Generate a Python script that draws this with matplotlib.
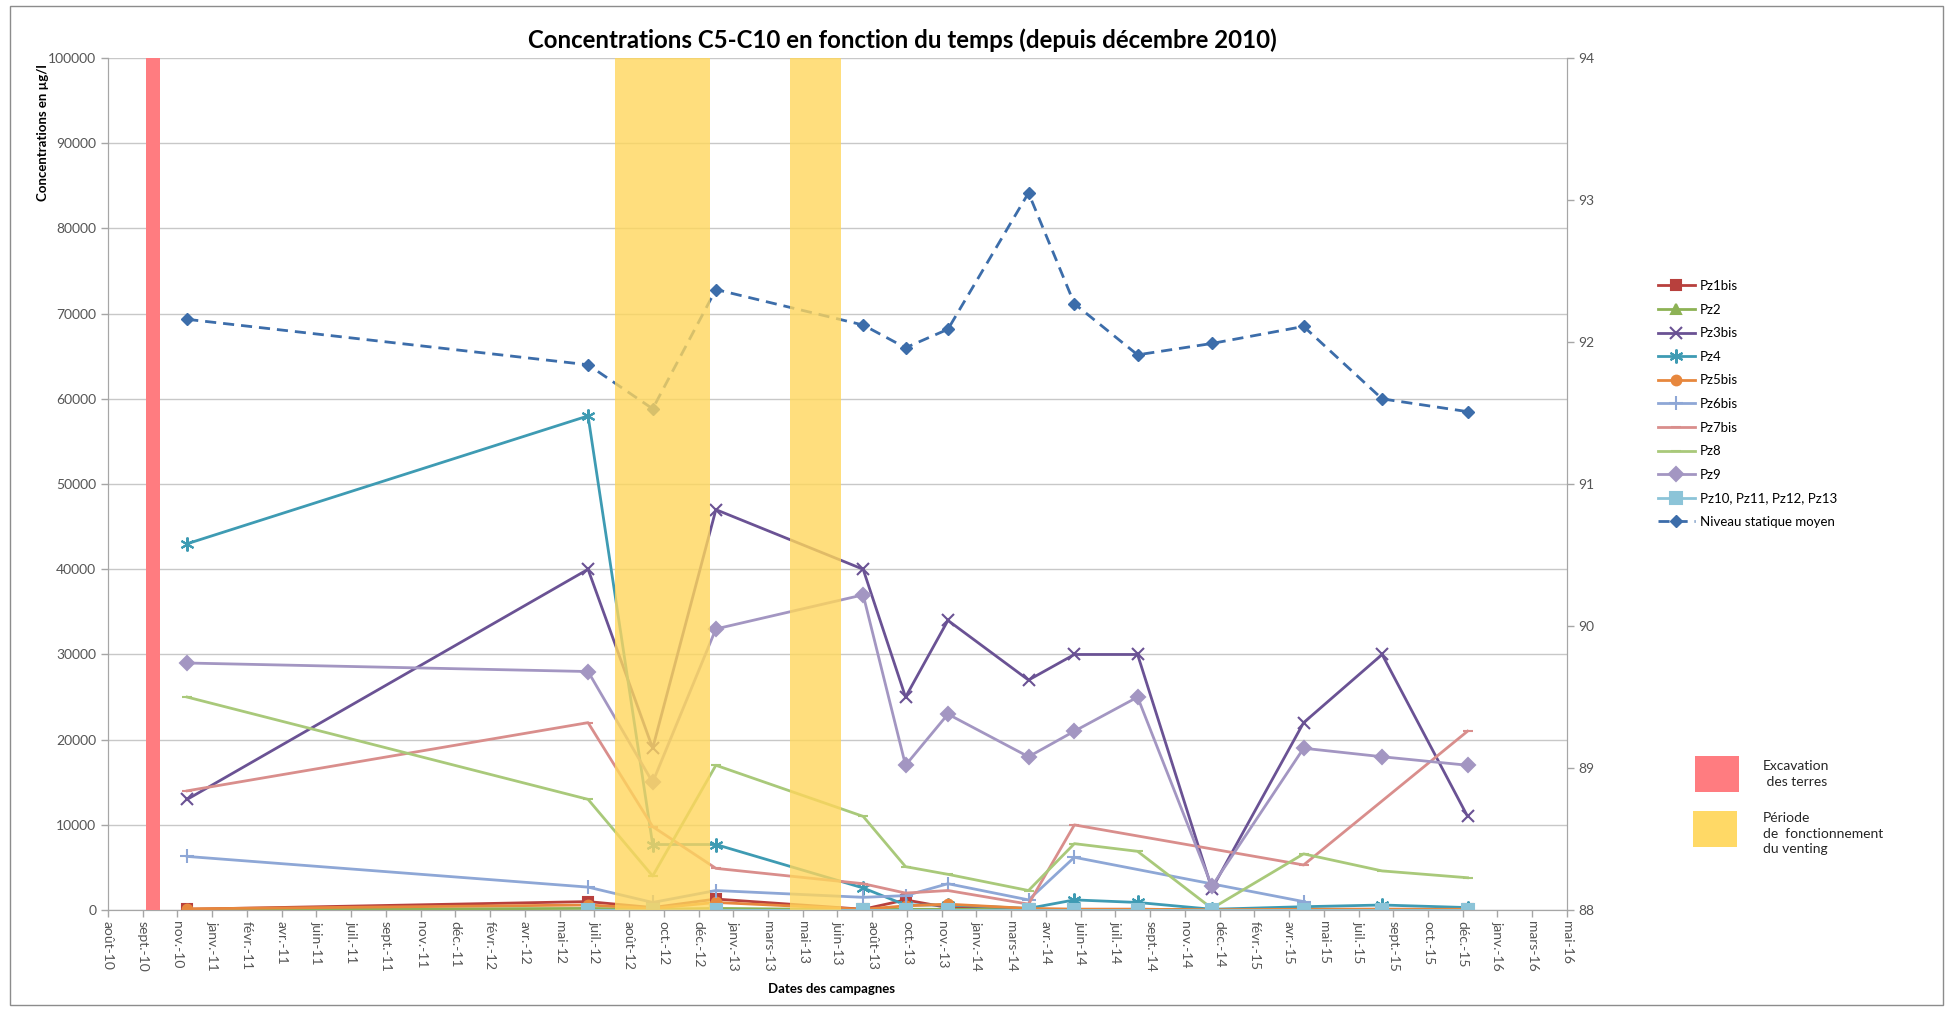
import matplotlib
matplotlib.use('Agg')
import matplotlib.pyplot as plt
from matplotlib.patches import Rectangle
from matplotlib.ticker import FuncFormatter
import matplotlib.dates as mdates
import numpy as np
import pandas as pd

plt.rcParams['font.family'] = ['Lato', 'DejaVu Sans']

# dates des campagnes de prelevement
campagnes = pd.to_datetime(['2010-12-02', '2012-07-01', '2012-10-02', '2013-01-01',
                            '2013-08-01', '2013-10-01', '2013-12-01', '2014-03-27',
                            '2014-06-01', '2014-08-31', '2014-12-16', '2015-04-27',
                            '2015-08-18', '2015-12-19'])

# concentrations C5-C10 en ug/l (nan = pas de mesure)
nan = np.nan
pz1bis = [100, 1000, 300, 1300, 100, 1200, 300, 100, 100, 100, 50, 100, 100, 100]
pz2 = [50, 200, 100, 200, 50, 100, 100, 50, 50, 50, 50, 50, 50, 50]
pz3bis = [13000, 40000, 19000, 47000, 40000, 25000, 34000, 27000, 30000, 30000, 2500, 22000, 30000, 11000]
pz4 = [43000, 58000, 7700, 7700, 2600, 600, 600, 200, 1200, 900, 100, 400, 600, 300]
pz5bis = [150, 600, 200, 900, 100, 500, 700, 200, 100, 100, 50, 100, 100, 100]
pz6bis = [6300, 2700, 900, 2300, 1500, 1700, 3100, 1200, 6200, nan, nan, 1000, nan, nan]
pz7bis = [14000, 22000, 9800, 4900, 3100, 2000, 2300, 700, 10000, nan, nan, 5300, nan, 21000]
pz8 = [25000, 13000, 4000, 17000, 11000, 5100, 4200, 2300, 7800, 6900, 200, 6600, 4600, 3800]
pz9 = [29000, 28000, 15000, 33000, 37000, 17000, 23000, 18000, 21000, 25000, 2800, 19000, 18000, 17000]
pz10_13 = [nan, 0, 0, 0, 0, 0, 0, 0, 0, 0, 0, 0, 0, 0]

# niveau statique moyen (axe de droite)
niveau = [92.16, 91.84, 91.53, 92.37, 92.12, 91.96, 92.09, 93.05, 92.27, 91.91, 91.99, 92.11, 91.60, 91.51]

# periodes particulieres
excavation = ('2010-10-03', '2010-10-24')
venting = [('2012-08-09', '2012-12-23'), ('2013-04-17', '2013-06-30')]

x_debut = pd.Timestamp('2010-08-10')
mois = ['janv.', 'févr.', 'mars', 'avr.', 'mai', 'juin', 'juil.', 'août',
        'sept.', 'oct.', 'nov.', 'déc.']

series = [
    ('Pz1bis', pz1bis, '#B8403D', 's', 7),
    ('Pz2', pz2, '#8DB255', '^', 7),
    ('Pz3bis', pz3bis, '#6A5294', 'x', 9),
    ('Pz4', pz4, '#3E9BB3', (6, 2, 0), 10),
    ('Pz5bis', pz5bis, '#E7873D', 'o', 7),
    ('Pz6bis', pz6bis, '#8EA7D6', '+', 10),
    ('Pz7bis', pz7bis, '#D98E8C', '_', 7),
    ('Pz8', pz8, '#A9C97A', '_', 7),
    ('Pz9', pz9, '#A396C2', 'D', 7),
    ('Pz10, Pz11, Pz12, Pz13', pz10_13, '#8CC4D8', 's', 9),
]

fig = plt.figure(figsize=(19.46, 10.09), dpi=100)
ax = fig.add_axes([0.0555, 0.098, 0.7497, 0.8445])
ax2 = ax.twinx()

gris = '#A6A6A6'
handles = []
for nom, vals, col, mk, ms in series:
    y = np.array(vals, dtype=float)
    ok = ~np.isnan(y)
    h, = ax.plot(campagnes[ok], y[ok], color=col, lw=2, marker=mk, ms=ms,
                 mew=1.5, label=nom, zorder=3)
    handles.append(h)

h, = ax2.plot(campagnes, niveau, color='#3C6DAA', lw=2, ls=(0, (4, 2.5)), marker='D',
              ms=6, label='Niveau statique moyen', zorder=2)
handles.append(h)

# bandes (dessinees par-dessus les courbes, comme dans Excel)
ax2.axvspan(pd.Timestamp(excavation[0]), pd.Timestamp(excavation[1]),
            color='#FF7C80', zorder=4, lw=0)
for d0, d1 in venting:
    ax2.axvspan(pd.Timestamp(d0), pd.Timestamp(d1), color='#FFD65C', alpha=0.8,
                zorder=4, lw=0)

# axes
x_fin = x_debut + pd.Timedelta(days=2100)
ax.set_xlim(x_debut, x_fin)
ax.set_ylim(0, 100000)
ax.set_yticks(np.arange(0, 100001, 10000))
ax2.set_ylim(88, 94)
ax2.set_yticks(np.arange(88, 95, 1))

ax.set_xticks(pd.date_range(x_debut, periods=43, freq='50D'))


def fmt_date(v, pos):
    d = mdates.num2date(v)
    return '%s-%02d' % (mois[d.month - 1], d.year % 100)


ax.xaxis.set_major_formatter(FuncFormatter(fmt_date))
for lab in ax.get_xticklabels():
    lab.set_rotation(-90)

ax.yaxis.grid(True, color='#C8C8C8', lw=1)
ax.set_axisbelow(True)
for a in (ax, ax2):
    a.spines['top'].set_visible(False)
    for s in ('left', 'right', 'bottom'):
        a.spines[s].set_color(gris)
    a.tick_params(colors=gris, labelcolor='#555555', labelsize=10, length=5, width=1)
ax.tick_params(axis='x', labelsize=10, pad=3)

# textes
fig.text(0.4635, 0.960, 'Concentrations C5-C10 en fonction du temps (depuis décembre 2010)',
         ha='center', va='center', fontsize=17.3, fontweight='bold')
fig.text(0.0221, 0.936, 'Concentrations en µg/l', rotation=90, ha='center', va='top',
         fontsize=9.5, fontweight='bold')
fig.text(0.4275, 0.020, 'Dates des campagnes', ha='center', va='center',
         fontsize=9.5, fontweight='bold')

leg = fig.legend(handles=handles, loc='upper left', bbox_to_anchor=(0.852, 0.7225),
                 frameon=False, fontsize=9.5, handlelength=2.8, handletextpad=0.4,
                 labelspacing=0.88, borderpad=0, borderaxespad=0)

# legende des bandes
fig.add_artist(Rectangle((1695 / 1946, 1 - 792 / 1009), 44 / 1946, 36 / 1009,
                         transform=fig.transFigure, color='#FF7C80', lw=0))
fig.add_artist(Rectangle((1693 / 1946, 1 - 847 / 1009), 44 / 1946, 36 / 1009,
                         transform=fig.transFigure, color='#FFD966', lw=0))
fig.text(1763 / 1946, 1 - 760 / 1009, 'Excavation\n des terres', ha='left', va='top',
         fontsize=10, color='#262626', linespacing=1.35)
fig.text(1763 / 1946, 1 - 812 / 1009, 'Période\nde  fonctionnement\ndu venting',
         ha='left', va='top', fontsize=10, color='#262626', linespacing=1.35)

# cadre du graphique
fig.add_artist(Rectangle((0.005, 0.004), 0.9935, 0.99, transform=fig.transFigure,
                         fill=False, edgecolor='#8C8C8C', lw=1))

fig.savefig('out.png', dpi=100)
